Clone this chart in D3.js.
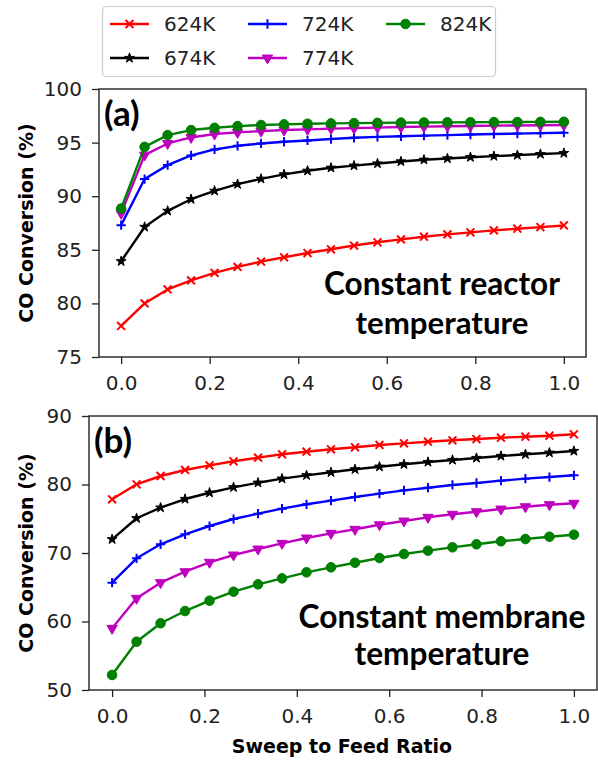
<!DOCTYPE html>
<html>
<head>
<meta charset="utf-8">
<script src="https://cdn.jsdelivr.net/npm/d3@7"></script>
<style>
    body {margin: 0; background: #fff;}
    svg {display: block;}
</style>
</head>
<body>
<svg id="chart" width="598" height="760"></svg>
<script>
'use strict';

// sweep to feed ratio (20 runs)
var sweepRatio = [0, 0.053, 0.105, 0.158, 0.211, 0.263, 0.316, 0.368, 0.421, 0.474,
    0.526, 0.579, 0.632, 0.684, 0.737, 0.789, 0.842, 0.895, 0.947, 1.0];

var seriesNames = ['624K', '674K', '724K', '774K', '824K'];
var seriesColors = ['#ff0000', '#000000', '#0000ff', '#bf00bf', '#008000'];
var seriesMarkers = ['times', 'star', 'plus', 'tri', 'circle'];

// (a) constant reactor temperature
var convA624 = [77.9, 80.0, 81.3, 82.15, 82.85, 83.4, 83.9, 84.3, 84.7, 85.05, 85.4, 85.7, 85.97, 86.22, 86.44, 86.63, 86.81, 86.97, 87.12, 87.27];
var convA674 = [83.93, 87.13, 88.63, 89.72, 90.5, 91.12, 91.62, 92.03, 92.37, 92.65, 92.85, 93.05, 93.24, 93.4, 93.52, 93.64, 93.74, 93.83, 93.93, 94.02];
var convA724 = [87.3, 91.6, 92.9, 93.8, 94.36, 94.7, 94.92, 95.08, 95.2, 95.33, 95.45, 95.53, 95.59, 95.65, 95.7, 95.75, 95.8, 95.84, 95.88, 95.92];
var convA774 = [88.4, 93.83, 94.92, 95.48, 95.8, 95.95, 96.07, 96.17, 96.23, 96.3, 96.35, 96.4, 96.45, 96.49, 96.52, 96.55, 96.58, 96.6, 96.62, 96.64];
var convA824 = [88.85, 94.6, 95.7, 96.17, 96.38, 96.54, 96.64, 96.7, 96.76, 96.79, 96.82, 96.84, 96.86, 96.88, 96.89, 96.9, 96.91, 96.92, 96.93, 96.94];

// (b) constant membrane temperature
var convB624 = [77.84, 80.03, 81.24, 82.12, 82.8, 83.39, 83.92, 84.41, 84.79, 85.14, 85.43, 85.77, 86.01, 86.25, 86.45, 86.64, 86.83, 86.98, 87.12, 87.33];
var convB674 = [72.0, 75.07, 76.62, 77.88, 78.8, 79.59, 80.26, 80.85, 81.34, 81.78, 82.22, 82.6, 82.95, 83.28, 83.58, 83.87, 84.16, 84.41, 84.64, 84.89];
var convB724 = [65.67, 69.23, 71.27, 72.73, 73.94, 74.96, 75.74, 76.47, 77.11, 77.64, 78.18, 78.66, 79.15, 79.53, 79.93, 80.22, 80.56, 80.85, 81.09, 81.34];
var convB774 = [59.0, 63.38, 65.67, 67.27, 68.64, 69.71, 70.58, 71.41, 72.19, 72.87, 73.46, 74.13, 74.67, 75.21, 75.65, 76.03, 76.42, 76.76, 77.05, 77.26];
var convB824 = [52.19, 57.05, 59.74, 61.53, 63.04, 64.35, 65.43, 66.3, 67.18, 67.91, 68.58, 69.27, 69.85, 70.34, 70.83, 71.27, 71.71, 72.04, 72.38, 72.67];

var xTicks = [0, 0.2, 0.4, 0.6, 0.8, 1.0];
var yTicksA = [75, 80, 85, 90, 95, 100];
var yTicksB = [50, 60, 70, 80, 90];

var svg = d3.select('#chart');
var tickFont = '"DejaVu Sans", sans-serif';
var noteFont = 'Lato, "Open Sans", sans-serif';

function markerPath(kind) {
    if (kind === 'times') return d3.symbol().type(d3.symbolTimes).size(42)();
    if (kind === 'plus') return d3.symbol().type(d3.symbolPlus).size(30)();
    if (kind === 'star') return d3.symbol().type(d3.symbolStar).size(30)();
    if (kind === 'tri') return d3.symbol().type(d3.symbolTriangle).size(46)();
    return d3.symbol().type(d3.symbolCircle).size(72)();
}

function drawMarker(sel, kind, color) {
    var p = sel.append('path').attr('d', markerPath(kind));
    if (kind === 'times' || kind === 'plus') {
        p.attr('fill', 'none').attr('stroke', color).attr('stroke-width', 2);
    } else {
        p.attr('fill', color).attr('stroke', color).attr('stroke-width', 1);
    }
    if (kind === 'tri') p.attr('transform', 'rotate(180)');
    return p;
}

function fitText(node, target) {
    // shrink or grow the font so the line spans the measured width
    var w = node.getComputedTextLength();
    var fs = parseFloat(node.getAttribute('font-size'));
    node.setAttribute('font-size', (fs * target / w).toFixed(2));
}

function drawPanel(cfg) {
    var x = d3.scaleLinear().domain([-0.05, 1.05]).range([cfg.left, cfg.right]);
    var y = d3.scaleLinear().domain(cfg.yDomain).range([cfg.bottom, cfg.top]);
    var g = svg.append('g');

    var xAxis = g.append('g').attr('transform', 'translate(0,' + cfg.bottom + ')')
        .call(d3.axisBottom(x).tickValues(xTicks).tickFormat(d3.format('.1f')).tickSize(7).tickSizeOuter(0).tickPadding(12));
    var yAxis = g.append('g').attr('transform', 'translate(' + cfg.left + ',0)')
        .call(d3.axisLeft(y).tickValues(cfg.yTicks).tickSize(7).tickSizeOuter(0).tickPadding(10));
    [xAxis, yAxis].forEach(function(a) {
        a.select('.domain').remove();
        a.selectAll('line').attr('stroke', '#222').attr('stroke-width', 1.3);
        a.selectAll('text').attr('font-family', tickFont).attr('font-size', 20).attr('fill', '#222');
    });

    g.append('rect').attr('x', cfg.left).attr('y', cfg.top)
        .attr('width', cfg.right - cfg.left).attr('height', cfg.bottom - cfg.top)
        .attr('fill', 'none').attr('stroke', '#222').attr('stroke-width', 1.4);

    var line = d3.line().x(function(d, i) {return x(sweepRatio[i]);}).y(function(d) {return y(d);});

    cfg.series.forEach(function(vals, k) {
        g.append('path').datum(vals).attr('d', line)
            .attr('fill', 'none').attr('stroke', seriesColors[k]).attr('stroke-width', 2.4)
            .attr('stroke-linejoin', 'round');
        var mk = g.append('g').selectAll('g').data(vals).enter().append('g')
            .attr('transform', function(d, i) {return 'translate(' + x(sweepRatio[i]) + ',' + y(d) + ')';});
        mk.each(function() {drawMarker(d3.select(this), seriesMarkers[k], seriesColors[k]);});
    });

    // panel tag
    g.append('text').attr('x', cfg.left + 5).attr('y', cfg.top + 37)
        .attr('font-family', noteFont).attr('font-weight', 'bold').attr('font-size', 35)
        .text(cfg.tag);

    cfg.note.forEach(function(s, i) {
        var t = g.append('text').attr('x', cfg.noteX).attr('y', cfg.noteY[i])
            .attr('text-anchor', 'middle').attr('font-family', noteFont)
            .attr('font-weight', 'bold').attr('font-size', 30).attr('fill', '#000').text(s);
        fitText(t.node(), cfg.noteW[i]);
    });

    g.append('text').attr('transform', 'translate(33,' + ((cfg.top + cfg.bottom) / 2) + ') rotate(-90)')
        .attr('text-anchor', 'middle').attr('font-family', tickFont).attr('font-weight', 'bold')
        .attr('font-size', 19).text('CO Conversion (%)');
}

drawPanel({
    left: 99, right: 586, top: 89, bottom: 357,
    yDomain: [75, 100], yTicks: yTicksA,
    series: [convA624, convA674, convA724, convA774, convA824],
    tag: '(a)',
    note: ['Constant reactor', 'temperature'],
    noteX: 442, noteY: [295, 334], noteW: [236, 173]
});

drawPanel({
    left: 89, right: 597, top: 416, bottom: 690,
    yDomain: [50, 90], yTicks: yTicksB,
    series: [convB624, convB674, convB724, convB774, convB824],
    tag: '(b)',
    note: ['Constant membrane', 'temperature'],
    noteX: 442, noteY: [628, 665], noteW: [287, 175]
});

svg.append('text').attr('x', 342).attr('y', 753).attr('text-anchor', 'middle')
    .attr('font-family', tickFont).attr('font-weight', 'bold').attr('font-size', 19)
    .text('Sweep to Feed Ratio');

// legend, 3 columns filled column by column
var legend = svg.append('g');
legend.append('rect').attr('x', 102.5).attr('y', 6.5).attr('width', 393).attr('height', 70)
    .attr('rx', 4).attr('fill', '#fff').attr('stroke', '#cccccc').attr('stroke-width', 1.2);
var colX = [110, 248, 386];
var rowY = [24, 58];
var item = legend.selectAll('g.item').data(seriesNames).enter().append('g')
    .attr('class', 'item')
    .attr('transform', function(d, i) {return 'translate(' + colX[Math.floor(i / 2)] + ',' + rowY[i % 2] + ')';});
item.append('line').attr('x1', 0).attr('x2', 39).attr('y1', 0).attr('y2', 0)
    .attr('stroke', function(d, i) {return seriesColors[i];}).attr('stroke-width', 2.4);
item.each(function(d, i) {
    var m = d3.select(this).append('g').attr('transform', 'translate(19.5,0)');
    drawMarker(m, seriesMarkers[i], seriesColors[i]);
});
item.append('text').attr('x', 54).attr('y', 7).attr('font-family', tickFont).attr('font-size', 20)
    .attr('fill', '#222').text(function(d) {return d;});
</script>
</body>
</html>
